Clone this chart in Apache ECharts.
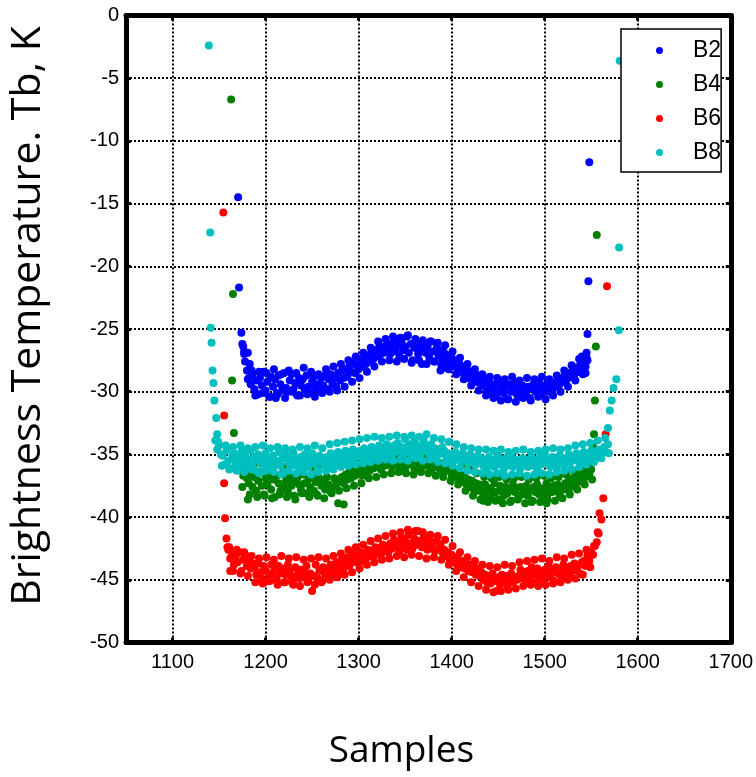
<!DOCTYPE html>
<html>
<head>
<meta charset="utf-8">
<script src="https://cdn.jsdelivr.net/npm/echarts@6/dist/echarts.min.js"></script>
<style>
html,body{margin:0;padding:0;background:#fff;}
#chart{width:756px;height:777px;}
</style>
</head>
<body>
<div id="chart"></div>
<script>
// ---- axis ticks / labels ----
const xMin = 1050, xMax = 1700;
const yMin = -50, yMax = 0, yStep = 5;
const seriesNames = ['B2', 'B4', 'B6', 'B8'];
const seriesColors = ['#0000ff', '#008000', '#ff0000', '#00bfbf'];
const sampleStep = 2;   // main read-off every 2nd sample
const extraStep = 4;    // band-edge read-off every 4th sample (odd samples)

// ---- B2 ----
const b2Edge = [[1170.5,-14.5],[1171.5,-21.7],[1174,-25.3],[1175,-26.2],[1177,-27.0],[1181,-26.9],[1183,-27.8],[1211,-30.5],
  [1388,-28.3],[1392,-28.1],
  [1540,-27.2],[1544,-28.5],[1545,-26.9],[1546,-25.4],[1547,-21.2],[1548,-11.7]];
const b2Start = 1176;
const b2Body = [
  -26.4,-27.6,-28.3,-28.9,-29.4,
  -28.6,-29.8,-29.1,-30.2,-28.9,-29.5,-28.4,-29.9,-29.2,-30.4,
  -28.8,-29.6,-29.0,-30.1,-28.7,-29.4,-29.9,-28.5,-29.7,-30.0,
  -29.1,-28.6,-29.8,-29.3,-30.3,-28.9,-29.5,-29.0,-29.8,-28.7,
  -29.6,-30.1,-29.2,-28.8,-29.7,-29.4,-30.0,-28.9,
  -29.5,-28.7,-29.8,-29.0,-28.6,-29.4,-28.9,-29.6,-28.5,-29.1,-28.3,-28.9,-28.2,-28.8,-28.0,
  -28.4,-27.7,-28.5,-27.9,-28.2,-27.5,-28.0,-27.3,-27.8,-27.1,-27.6,-26.9,-27.4,-26.7,-27.2,-26.5,-27.0,-26.4,-26.9,-26.6,
  -26.2,-27.0,-26.5,-25.9,-26.8,-26.3,-27.2,-26.0,-26.7,-26.4,
  -25.6,-26.9,-26.2,-27.5,-26.5,-26.1,-27.0,-26.6,-27.8,-26.3,
  -26.9,-26.4,-27.3,-26.0,-26.8,-27.6,-26.5,-27.1,-26.7,-27.4,
  -26.9,-27.5,-27.1,-27.8,-27.3,-27.9,-27.5,-28.2,-27.7,-28.4,-28.0,-28.6,-28.1,-28.9,-28.4,-29.0,-28.6,-29.2,-28.7,-29.3,
  -28.9,-29.5,-29.1,-29.8,-29.3,-30.0,-29.4,-29.7,-30.3,-29.2,
  -29.8,-29.5,-30.1,-29.6,-30.6,-29.4,-30.0,-29.7,-29.3,-30.2,
  -29.8,-30.4,-29.5,-29.9,-30.1,-29.6,-30.5,-29.7,-29.4,-30.0,
  -29.8,-29.3,-30.2,-29.6,-29.9,-29.4,-30.0,-29.5,-29.8,-29.3,
  -29.6,-29.1,-29.4,-28.9,-29.2,-28.7,-29.0,-28.5,-28.8,-28.3,-28.6,-28.1,-28.4,-27.9,-28.2,-27.7,-28.0,-27.5
];
const b2ExtraStart = 1177;
const b2Extra = [
  -26.8,-29.0,-28.3,-30.3,-28.4,-30.1,-28.5,-30.4,-28.2,-30.2,
  -28.6,-30.5,-28.3,-30.0,-28.5,-30.3,-28.1,-30.2,-28.4,-30.4,
  -28.6,-30.1,-28.2,-30.0,-28.0,-29.9,-27.8,-29.6,-27.5,-29.2,
  -27.2,-28.9,-26.9,-28.4,-26.5,-28.0,-26.0,-27.6,-25.8,-27.5,
  -25.6,-27.6,-25.7,-27.4,-25.5,-27.7,-25.8,-27.5,-25.9,-27.8,
  -26.0,-27.6,-26.1,-27.9,-26.3,-28.2,-26.8,-28.6,-27.3,-29.0,
  -27.8,-29.5,-28.2,-29.9,-28.6,-30.3,-28.8,-30.5,-28.9,-30.7,
  -29.0,-30.6,-28.8,-30.8,-29.1,-30.5,-28.9,-30.7,-29.0,-30.4,
  -28.8,-30.6,-29.0,-30.3,-28.7,-30.0,-28.3,-29.6,-27.9,-29.1,
  -27.4,-28.6,-27.3
];

// ---- B4 ----
const b4Edge = [[1163,-6.7],[1165,-22.2],[1164,-29.1],[1166,-33.3],[1168,-35.2],[1181,-38.6],[1284,-39.0],[1434,-38.7],[1502,-38.9],
  [1552,-34.4],[1553,-33.4],[1554,-30.7],[1555,-26.4],[1556,-17.5]];
const b4Start = 1170;
const b4Body = [
  -35.6,-36.2,-36.0,-36.7,-36.4,-36.9,
  -37.3,-36.5,-37.6,-36.8,-37.9,-37.1,-36.4,-37.5,-38.2,-36.9,
  -37.4,-36.6,-37.8,-37.0,-38.4,-36.7,-37.3,-37.9,-36.5,-37.6,
  -37.1,-38.0,-36.8,-37.5,-37.2,-38.6,-36.9,-37.4,-37.8,-36.6,
  -37.3,-38.1,-37.0,-37.6,-36.7,-37.9,-37.2,-38.3,-36.9,-37.5,
  -37.1,-37.8,-36.8,-37.4,-38.0,
  -37.6,-36.9,-37.4,-38.9,-37.1,-36.8,-37.3,-36.6,-37.0,-36.4,-36.9,-36.3,-36.7,-36.1,-36.5,
  -36.2,-36.7,-35.9,-36.5,-35.8,-36.3,-35.6,-36.1,-35.4,-36.0,-35.7,-36.2,-35.5,-35.9,-35.3,-35.8,-35.6,-36.0,-35.4,-35.7,
  -35.3,-35.9,-35.1,-35.7,-36.1,-35.4,-35.8,-34.9,-35.6,-36.2,
  -35.2,-35.7,-35.4,-36.0,-35.5,-35.1,-35.9,-35.6,-36.3,-35.3,
  -35.8,-35.5,-36.1,-35.7,-36.4,
  -36.0,-35.7,-36.3,-36.0,-36.6,-36.2,-36.8,-36.4,-37.0,-36.6,-37.2,-36.8,-37.4,-37.0,-37.6,-37.1,-37.8,-37.3,-37.9,-37.4,
  -37.6,-38.2,-37.4,-37.9,-38.5,-37.7,-38.1,-37.3,-38.0,-38.6,
  -37.5,-37.9,-38.3,-37.6,-38.1,-37.8,-38.7,-37.4,-38.0,-37.7,
  -38.4,-37.6,-38.2,-37.9,-37.5,-38.3,-37.8,-38.8,-37.6,-38.0,
  -37.4,-38.2,-37.7,-38.5,-37.9,-37.3,-38.1,-37.6,-38.0,-37.5,
  -37.9,-37.4,-38.2,-37.6,-37.8,
  -37.3,-37.8,-37.1,-37.6,-36.9,-37.4,-36.8,-37.2,-36.6,-37.0,-36.5,-36.8,-36.3,-36.6,-36.2
];
const b4ExtraStart = 1171;
const b4Extra = [
  -35.4,-37.6,-35.9,-38.2,-35.8,-38.4,-35.7,-38.3,-35.9,-38.5,
  -35.8,-38.2,-36.0,-38.4,-35.7,-38.3,-35.9,-38.1,-35.8,-38.4,
  -36.0,-38.2,-35.8,-38.5,-35.9,-38.1,-35.8,-37.9,-35.6,-37.7,
  -35.4,-37.5,-35.2,-37.3,-35.0,-36.9,-34.8,-36.8,-34.7,-36.6,
  -34.6,-36.5,-34.5,-36.4,-34.6,-36.5,-34.4,-36.6,-34.5,-36.4,
  -34.3,-36.5,-34.6,-36.7,-34.8,-36.8,-35.0,-37.1,-35.4,-37.4,
  -35.8,-37.9,-36.2,-38.3,-36.5,-38.6,-36.8,-38.8,-36.9,-38.7,
  -36.8,-38.9,-37.0,-38.8,-36.9,-38.6,-36.8,-38.9,-37.0,-38.7,
  -36.9,-38.8,-36.7,-38.6,-36.9,-38.7,-36.8,-38.5,-36.6,-38.2,
  -36.3,-37.8,-35.9,-37.4,-35.7,-37.0
];

// ---- B6 ----
const b6Edge = [[1154.6,-15.7],[1155.5,-31.9],[1155.5,-37.3],[1156.5,-40.1],[1158,-41.7],[1159,-42.4],[1162,-44.3],
  [1558,-41.3],[1559,-39.7],[1561,-40.2],[1563,-38.5],[1565.5,-33.4],[1567,-21.6]];
const b6Start = 1160;
const b6Body = [
  -42.6,-43.3,-42.9,-43.8,-43.1,-43.6,-42.8,-44.3,-43.4,-43.0,-43.9,-43.5,-44.1,-43.7,
  -44.0,-44.6,-43.7,-44.4,-44.9,-43.9,-44.3,-45.1,-44.5,-43.8,
  -44.7,-44.2,-45.0,-43.9,-44.5,-44.1,-45.2,-44.6,-43.8,-44.3,
  -44.8,-45.4,-44.0,-44.6,-44.9,-44.2,-44.8,-44.4,-43.9,-45.0,
  -44.5,-45.9,-44.7,-43.8,-44.9,-44.3,-45.2,-44.0,-44.6,-44.2,
  -44.3,-43.8,-44.6,-44.0,-43.6,-44.4,-43.9,-43.4,-44.1,-43.6,-43.2,-43.9,-43.3,-42.9,-43.6,-43.1,-43.4,
  -42.8,-43.5,-42.9,-43.3,-42.6,-43.1,-42.7,-43.2,-42.4,-42.9,-42.5,-43.0,-42.2,-42.7,-42.3,-42.8,-42.1,-42.5,
  -41.8,-42.4,-42.0,-42.7,-41.6,-42.3,-41.9,-42.6,-41.4,-42.1,
  -42.5,-41.7,-42.2,-41.1,-41.9,-42.4,-41.6,-42.0,-42.6,-41.8,
  -42.3,-42.0,-42.7,-41.9,-42.5,-42.2,-42.8,
  -42.6,-43.1,-42.8,-43.4,-43.0,-43.6,-43.2,-43.8,-43.4,-44.0,-43.5,-44.1,-43.7,-44.3,-43.8,-44.4,-44.0,-44.6,-44.1,-44.7,
  -44.4,-45.0,-44.6,-45.2,-44.7,-45.3,-44.5,-45.1,-45.9,-44.8,-45.4,-44.6,-45.0,-44.7,-45.5,-44.9,-44.5,-45.2,-44.8,-45.0,
  -44.7,-44.2,-44.9,-44.4,-45.1,-44.3,-44.8,-44.0,-44.6,-45.2,
  -44.1,-44.7,-44.4,-45.0,-44.2,-44.6,-43.9,-44.8,-44.3,-45.1,
  -44.0,-44.5,-44.2,-44.9,-43.8,-44.4,-44.1,-44.7,-43.9,-44.3,
  -43.7,-44.2,-43.9,-44.5,-43.6,
  -43.5,-43.9,-43.1,-43.5,-42.8,-43.0,-42.3,-42.0
];
const b6ExtraStart = 1161;
const b6Extra = [
  -42.4,-44.3,-42.6,-44.5,-42.8,-44.7,-43.1,-45.2,-43.3,-45.3,
  -43.2,-45.1,-43.4,-45.4,-43.1,-45.2,-43.3,-45.3,-43.2,-45.5,
  -43.4,-45.2,-43.3,-45.4,-43.2,-45.1,-43.3,-45.0,-43.1,-44.8,
  -42.9,-44.6,-42.6,-44.4,-42.4,-44.1,-42.2,-43.8,-41.9,-43.6,
  -41.7,-43.4,-41.5,-43.3,-41.3,-43.1,-41.2,-43.2,-41.0,-43.0,
  -41.1,-43.1,-41.2,-43.3,-41.4,-43.2,-41.5,-43.4,-41.8,-43.8,
  -42.3,-44.3,-42.8,-44.8,-43.2,-45.2,-43.5,-45.5,-43.8,-45.8,
  -43.9,-46.0,-44.0,-45.9,-43.8,-45.8,-43.9,-45.7,-43.6,-45.5,
  -43.5,-45.4,-43.4,-45.5,-43.3,-45.4,-43.5,-45.3,-43.2,-45.2,
  -43.3,-45.0,-43.0,-44.9,-42.9,-44.6,-42.6,-44.0,-42.3,-41.2
];

// ---- B8 ----
const b8Edge = [[1139,-2.4],[1140.5,-17.3],[1141,-24.9],[1142,-26.1],[1143,-28.3],[1144,-29.3],[1145,-30.7],[1147,-32.1],[1148,-33.4],
  [1568,-32.9],[1570,-31.5],[1572,-30.7],[1574,-29.7],[1577,-29.0],[1579.7,-25.1],[1580,-18.5],[1580.7,-3.6]];
const b8Start = 1146;
const b8Body = [
  -33.9,-34.6,-34.3,-35.0,
  -35.1,-35.8,-34.7,-35.5,-36.1,-35.2,-34.9,-35.7,-35.3,-36.0,
  -34.8,-35.6,-35.1,-35.9,-35.4,-34.7,-35.8,-35.2,-36.3,-35.0,
  -35.6,-35.3,-36.0,-34.9,-35.7,-35.4,-36.2,-35.1,-35.8,-35.5,
  -34.8,-35.9,-35.3,-36.4,-35.0,-35.6,-35.2,-35.9,-34.9,-35.7,
  -35.4,-36.1,-35.2,-35.8,-35.0,-35.5,-36.0,-35.3,-34.9,-35.7,
  -35.4,-36.2,-35.1,-35.6,-35.3,-35.9,
  -35.2,-35.8,-34.9,-35.5,-35.1,-35.7,-34.8,-35.4,-35.0,-35.6,-34.7,-35.3,-34.9,-35.5,-34.6,-35.2,-34.8,-35.1,
  -34.7,-35.3,-34.5,-35.0,-34.8,-35.4,-34.4,-34.9,-34.6,-35.2,-34.3,-34.8,-34.5,-35.1,-34.2,-34.7,-34.4,-35.0,-34.3,-34.8,
  -34.1,-34.7,-34.4,-35.0,-33.8,-34.5,-34.2,-34.9,-34.6,-34.0,
  -34.8,-34.3,-35.1,-34.5,-33.9,-34.7,-34.4,-35.0,-34.2,-34.8,
  -34.5,-35.2,-34.6,-34.9,-34.4,
  -34.7,-35.2,-34.9,-35.4,-35.0,-35.5,-34.8,-35.3,-35.1,-35.6,-34.9,-35.4,-35.2,-35.7,-35.0,-35.5,-35.3,-35.8,-35.1,-35.6,
  -35.3,-35.9,-35.5,-36.1,-35.2,-35.7,-35.4,-36.0,-35.6,-35.1,
  -35.8,-35.5,-36.2,-35.3,-35.9,-35.6,-35.2,-36.0,-35.4,-35.8,
  -35.5,-36.1,-35.3,-35.7,-35.4,-36.0,-35.6,-35.2,-35.9,-35.5,
  -36.1,-35.3,-35.8,-35.4,-35.0,-35.7,-35.5,-36.0,-35.2,-35.6,
  -35.4,-35.9,-35.1,-35.7,-35.3,-35.8,-35.5,-35.0,-35.6,-35.2,
  -35.4,-34.9,-35.5,-35.1,-35.6,-34.8,-35.3,-35.0,-35.4,-34.7,-35.2,-34.9,-35.3,-34.6,-35.0,-34.7,-34.4,-34.8,-34.2
];
const b8ExtraStart = 1149;
const b8Extra = [
  -34.0,-35.9,-34.3,-36.2,-34.4,-36.3,-34.3,-36.4,-34.5,-36.2,
  -34.4,-36.5,-34.3,-36.3,-34.5,-36.4,-34.4,-36.6,-34.5,-36.3,
  -34.6,-36.5,-34.4,-36.4,-34.5,-36.6,-34.3,-36.4,-34.5,-36.3,
  -34.2,-36.2,-34.1,-36.0,-34.0,-35.9,-33.9,-35.8,-33.8,-35.7,
  -33.7,-35.6,-33.6,-35.5,-33.7,-35.4,-33.6,-35.5,-33.5,-35.4,
  -33.6,-35.5,-33.5,-35.3,-33.6,-35.5,-33.4,-35.4,-33.7,-35.6,
  -33.8,-35.7,-34.0,-35.9,-34.2,-36.1,-34.4,-36.3,-34.5,-36.4,
  -34.6,-36.5,-34.6,-36.6,-34.7,-36.5,-34.6,-36.7,-34.8,-36.6,
  -34.7,-36.5,-34.6,-36.7,-34.8,-36.6,-34.7,-36.5,-34.6,-36.6,
  -34.5,-36.4,-34.6,-36.3,-34.5,-36.2,-34.3,-36.0,-34.2,-35.8,
  -34.1,-35.6,-33.9,-35.3,-33.7,-34.9
];

function buildPoints(edge, start, body, extraStart, extra) {
  const main = body.map((v, i) => [start + i * sampleStep, v]);
  const ext = extra.map((v, i) => [extraStart + i * extraStep, v]);
  return main.concat(ext, edge);
}
const allData = [
  buildPoints(b2Edge, b2Start, b2Body, b2ExtraStart, b2Extra),
  buildPoints(b4Edge, b4Start, b4Body, b4ExtraStart, b4Extra),
  buildPoints(b6Edge, b6Start, b6Body, b6ExtraStart, b6Extra),
  buildPoints(b8Edge, b8Start, b8Body, b8ExtraStart, b8Extra)
];

const labelFont = '"Liberation Sans Narrow", "Arial Narrow", "Liberation Sans", sans-serif';
const gridLine = { show: true, lineStyle: { color: '#000', width: 2, type: [2, 2] } };
const axisLineStyle = { show: true, onZero: false, lineStyle: { color: '#000', width: 5 } };
const tickStyle = { show: true, inside: true, length: 5, lineStyle: { color: '#000', width: 3 } };

const chart = echarts.init(document.getElementById('chart'), null, { renderer: 'canvas' });
chart.setOption({
  animation: false,
  backgroundColor: '#fff',
  grid: { left: 125, right: 24.5, top: 15.5, bottom: 134.5, containLabel: false },
  legend: {
    orient: 'vertical',
    left: 621, top: 29,
    data: seriesNames,
    icon: 'circle',
    itemWidth: 7, itemHeight: 7, itemGap: 11,
    padding: [10, 0, 8, 35],
    backgroundColor: '#fff',
    borderColor: '#000', borderWidth: 1.5, borderRadius: 0,
    textStyle: { fontFamily: labelFont, fontSize: 23, lineHeight: 23, color: '#000', padding: [0, 0, 0, 25] }
  },
  xAxis: [{
    type: 'value', min: xMin, max: xMax, splitNumber: 6,
    position: 'bottom',
    axisLine: axisLineStyle, axisTick: tickStyle, splitLine: gridLine,
    axisLabel: { showMinLabel: false, margin: 10, fontFamily: labelFont, fontSize: 20, color: '#000',
      formatter: v => String(v) },
    name: 'Samples', nameLocation: 'middle', nameGap: 90,
    nameTextStyle: { fontFamily: '"Open Sans", sans-serif', fontSize: 37, color: '#000', padding: [0, 54, 0, 0] }
  }, {
    type: 'value', min: xMin, max: xMax, splitNumber: 6,
    position: 'top',
    axisLine: axisLineStyle, axisTick: tickStyle, splitLine: { show: false },
    axisLabel: { show: false }
  }],
  yAxis: [{
    type: 'value', min: yMin, max: yMax, interval: yStep,
    position: 'left',
    axisLine: axisLineStyle, axisTick: tickStyle, splitLine: gridLine,
    axisLabel: { margin: 7, fontFamily: labelFont, fontSize: 20, color: '#000' },
    name: 'Brightness Temperature. Tb, K', nameLocation: 'middle', nameGap: 77,
    nameTextStyle: { fontFamily: '"Open Sans", sans-serif', fontSize: 41, color: '#000', padding: [0, 0, 0, 26] }
  }, {
    type: 'value', min: yMin, max: yMax, interval: yStep,
    position: 'right',
    axisLine: axisLineStyle, axisTick: tickStyle, splitLine: { show: false },
    axisLabel: { show: false }
  }],
  series: seriesNames.map((name, k) => ({
    name: name,
    type: 'scatter',
    xAxisIndex: 0, yAxisIndex: 0,
    symbol: 'circle',
    symbolSize: 8,
    itemStyle: { color: seriesColors[k], opacity: 1 },
    emphasis: { disabled: true },
    data: allData[k]
  }))
});
</script>
</body>
</html>
